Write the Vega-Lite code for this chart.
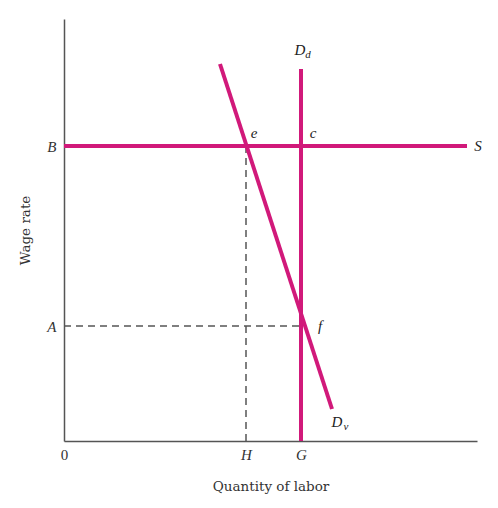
{
  "$schema": "https://vega.github.io/schema/vega-lite/v6.json",
  "width": 413,
  "height": 422,
  "autosize": {"type": "none"},
  "padding": {"left": 64, "top": 19, "right": 21, "bottom": 67},
  "background": "white",
  "config": {
    "view": {"stroke": null},
    "axis": {
      "grid": false,
      "ticks": false,
      "domainColor": "#555555",
      "domainWidth": 1.5,
      "labelFont": "Liberation Serif",
      "labelFontSize": 15,
      "labelColor": "#333333",
      "titleFont": "DejaVu Serif",
      "titleFontSize": 13.5,
      "titleFontWeight": "normal",
      "titleColor": "#333333"
    }
  },
  "datasets": {
    "dashed": [
      {"x": 0, "y": 115, "x2": 237, "y2": 115},
      {"x": 182, "y": 295, "x2": 182, "y2": 0}
    ],
    "solid": [
      {"name": "S", "x": 0, "y": 295, "x2": 403, "y2": 295},
      {"name": "Dd", "x": 237, "y": 372, "x2": 237, "y2": 0},
      {"name": "Dv", "x": 156, "y": 377, "x2": 268, "y2": 32}
    ],
    "labels": [
      {"label": "e", "x": 190, "y": 308},
      {"label": "c", "x": 249, "y": 308},
      {"label": "f", "x": 256, "y": 115},
      {"label": "S", "x": 414, "y": 295},
      {"label": "D", "x": 236, "y": 391},
      {"label": "D", "x": 273, "y": 19}
    ],
    "subs": [
      {"label": "d", "x": 244, "y": 386},
      {"label": "v", "x": 282, "y": 14}
    ]
  },
  "layer": [
    {
      "data": {"name": "dashed"},
      "mark": {"type": "rule", "color": "#555555", "strokeWidth": 1.5, "strokeDash": [7, 5]},
      "encoding": {
        "x": {
          "field": "x", "type": "quantitative",
          "scale": {"domain": [0, 413], "nice": false, "zero": false},
          "axis": {
            "values": [0, 182, 237],
            "labelExpr": "datum.value == 0 ? '0' : (datum.value == 182 ? 'H' : 'G')",
            "labelFontStyle": {"condition": {"test": "datum.value == 0", "value": "normal"}, "value": "italic"},
            "labelFlush": false,
            "labelPadding": 6,
            "title": "Quantity of labor",
            "titlePadding": 17
          }
        },
        "y": {
          "field": "y", "type": "quantitative",
          "scale": {"domain": [0, 422], "nice": false, "zero": false},
          "axis": {
            "values": [115, 295],
            "labelExpr": "datum.value == 115 ? 'A' : 'B'",
            "labelFontStyle": "italic",
            "labelPadding": 8,
            "title": "Wage rate",
            "titleX": -32,
            "titleY": 211
          }
        },
        "x2": {"field": "x2"},
        "y2": {"field": "y2"}
      }
    },
    {
      "data": {"name": "solid"},
      "mark": {"type": "rule", "color": "#d1197a", "strokeWidth": 4, "strokeCap": "butt"},
      "encoding": {
        "x": {"field": "x", "type": "quantitative"},
        "y": {"field": "y", "type": "quantitative"},
        "x2": {"field": "x2"},
        "y2": {"field": "y2"}
      }
    },
    {
      "data": {"name": "labels"},
      "mark": {"type": "text", "font": "Liberation Serif", "fontSize": 15, "fontStyle": "italic", "color": "#222222", "align": "center", "baseline": "middle"},
      "encoding": {
        "x": {"field": "x", "type": "quantitative"},
        "y": {"field": "y", "type": "quantitative"},
        "text": {"field": "label"}
      }
    },
    {
      "data": {"name": "subs"},
      "mark": {"type": "text", "font": "Liberation Serif", "fontSize": 11, "fontStyle": "italic", "color": "#222222", "align": "center", "baseline": "middle"},
      "encoding": {
        "x": {"field": "x", "type": "quantitative"},
        "y": {"field": "y", "type": "quantitative"},
        "text": {"field": "label"}
      }
    }
  ]
}
